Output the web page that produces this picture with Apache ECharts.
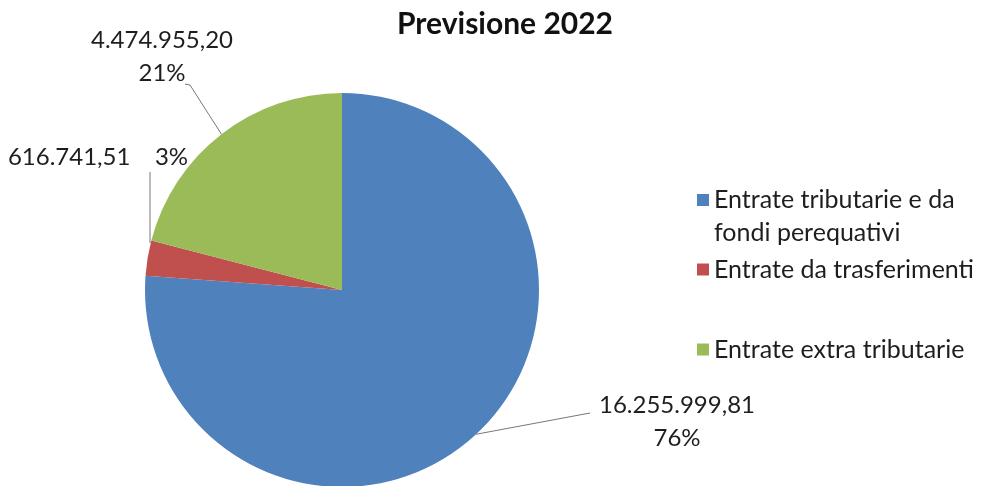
<!DOCTYPE html>
<html><head><meta charset="utf-8">
<script src="https://cdn.jsdelivr.net/npm/echarts@6/dist/echarts.min.js"></script>
<style>html,body{margin:0;padding:0;background:#fff}#c{width:984px;height:486px}</style>
</head><body><div id="c"></div>
<script>
const title = 'Previsione 2022';
const categories = ['Entrate tributarie e da\nfondi perequativi', 'Entrate da trasferimenti', 'Entrate extra tributarie'];
const values = [16255999.81, 616741.51, 4474955.20];
const colors = ['#4F81BD', '#C0504D', '#9BBB59'];

function fmtIt(v) {
  const parts = v.toFixed(2).split('.');
  const intPart = parts[0].replace(/\B(?=(\d{3})+(?!\d))/g, '.');
  return intPart + ',' + parts[1];
}
const FONT = 'Lato';
const TXT = '#1e1e1e';
const chart = echarts.init(document.getElementById('c'));
const labelPos = [
  {x: 677, y: 422, line: [[590, 413]]},
  {x: 98, y: 157, line: [[150, 172]]},
  {x: 162, y: 57, line: [[190, 85], [185, 84]]}
];
const topIcon = 'path://M0,0h12v12h-12z M0,45h12';
chart.setOption({
  animation: false,
  color: colors,
  title: {text: title, left: 500, top: 4, textAlign: 'center',
    textStyle: {fontFamily: FONT, fontSize: 30, fontWeight: 'bold', color: '#111'}},
  legend: [0, 1, 2].map((i) => ({
    data: [categories[i]], orient: 'vertical', left: 697, padding: 0,
    top: [183.5, 253, 333][i], itemWidth: 12, itemHeight: i === 0 ? 45 : 12, itemGap: 0,
    icon: i === 0 ? topIcon : 'rect', selectedMode: false,
    textStyle: {fontFamily: FONT, fontSize: 25, color: TXT, lineHeight: 33}
  })),
  series: [{
    type: 'pie', center: [342, 290], radius: 197, startAngle: 90, clockwise: true,
    data: categories.map((n, i) => ({name: n, value: values[i]})),
    itemStyle: {borderWidth: 0},
    label: {
      show: true, position: 'outside', fontFamily: FONT, fontSize: 24, color: TXT,
      lineHeight: 33, align: 'center', overflow: 'none',
      formatter: (p) => p.dataIndex === 1
        ? fmtIt(p.value) + '    ' + Math.round(p.percent) + '%'
        : fmtIt(p.value) + '\n' + Math.round(p.percent) + '%'
    },
    labelLine: {show: true, length: 10, length2: 10, lineStyle: {color: '#777', width: 1}},
    labelLayout: (params) => {
      const lp = labelPos[params.dataIndex];
      const p0 = params.labelLinePoints ? params.labelLinePoints[0] : null;
      let start = p0;
      if (params.dataIndex === 1 && p0) start = [150, 243];
      const o = {x: lp.x, y: lp.y, align: 'center', verticalAlign: 'middle', width: 300};
      if (start) o.labelLinePoints = [start].concat(lp.line);
      return o;
    }
  }]
});
</script></body></html>
